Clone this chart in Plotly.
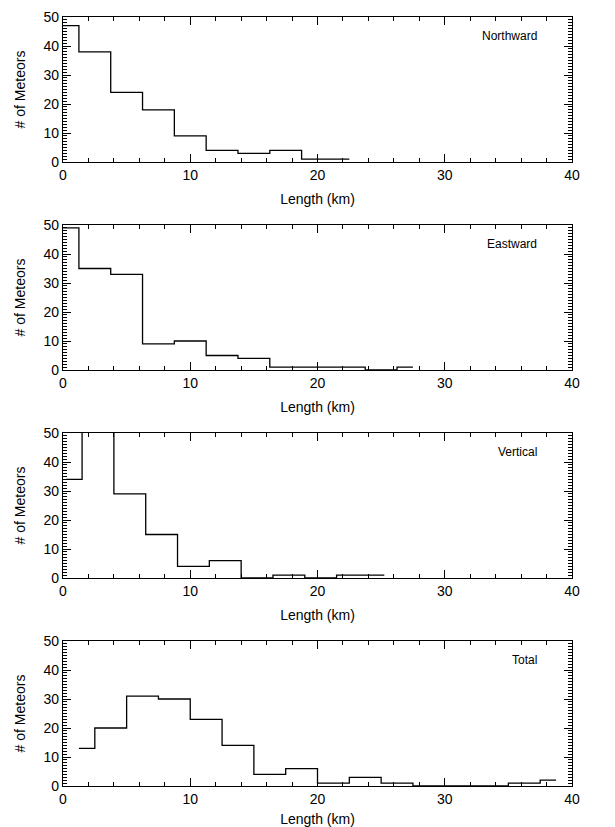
import plotly.graph_objects as go

# bin centres (km) and counts per panel, drawn IDL psym=10 style
north_x = [0, 2.5, 5, 7.5, 10, 12.5, 15, 17.5, 20, 22.5]
north_y = [47, 38, 24, 18, 9, 4, 3, 4, 1, 1]

east_x = [0, 2.5, 5, 7.5, 10, 12.5, 15, 17.5, 20, 22.5, 25, 27.5]
east_y = [49, 35, 33, 9, 10, 5, 4, 1, 1, 1, 0, 1]

vert_x = [0.25, 2.75, 5.25, 7.75, 10.25, 12.75, 15.25, 17.75, 20.25, 22.75, 25.25]
vert_y = [34, 60, 29, 15, 4, 6, 0, 1, 0, 1, 1]

total_x = [1.25, 3.75, 6.25, 8.75, 11.25, 13.75, 16.25, 18.75, 21.25, 23.75,
           26.25, 28.75, 31.25, 33.75, 36.25, 38.75]
total_y = [13, 20, 31, 30, 23, 14, 4, 6, 1, 3, 1, 0, 0, 0, 1, 2]

panels = [
    ('Northward', north_x, north_y),
    ('Eastward', east_x, east_y),
    ('Vertical', vert_x, vert_y),
    ('Total', total_x, total_y),
]

# page has an 8px body margin, so work in a shifted frame
OFF = 8
W, H = 615 - OFF, 827 - OFF
fig = go.Figure()
font = dict(family='Liberation Sans, Arial', size=14, color='black')

for i, (name, xs, ys) in enumerate(panels):
    n = '' if i == 0 else str(i + 1)
    top = 17 + 208 * i - OFF
    bot = 162 + 208 * i - OFF
    fig.add_trace(go.Scatter(
        x=xs, y=ys, mode='lines', line=dict(shape='hvh', color='black', width=1.3),
        xaxis='x' + n, yaxis='y' + n, showlegend=False,
    ))
    axis = dict(showline=True, linecolor='black', linewidth=1.2, mirror='allticks',
                ticks='inside', ticklen=8, tickwidth=1.2, tickcolor='black', showgrid=False,
                zeroline=False, tickfont=font, automargin=False)
    fig.update_layout(**{
        'xaxis' + n: dict(axis, domain=[(63 - OFF) / W, (572 - OFF) / W], range=[0, 40],
                          dtick=10, anchor='y' + n,
                          minor=dict(dtick=2, ticks='inside', ticklen=4, tickwidth=1,
                                     tickcolor='black', showgrid=False),
                          title=dict(text='Length (km)', font=font, standoff=12)),
        'yaxis' + n: dict(axis, domain=[1 - bot / H, 1 - top / H], range=[0, 50], dtick=10,
                          anchor='x' + n,
                          minor=dict(dtick=1, ticks='inside', ticklen=4, tickwidth=1,
                                     tickcolor='black', showgrid=False),
                          title=dict(text='# of Meteors', font=font, standoff=14)),
    })
    fig.add_annotation(text=name, xref='x' + n + ' domain', yref='y' + n + ' domain',
                       x=0.935, y=0.93, xanchor='right', yanchor='top', showarrow=False,
                       font=dict(family='Liberation Sans, Arial', size=12, color='black'))

fig.update_layout(width=W, height=H, margin=dict(l=0, r=0, t=0, b=0),
                  plot_bgcolor='white', paper_bgcolor='white')
fig.write_html('out.html')
